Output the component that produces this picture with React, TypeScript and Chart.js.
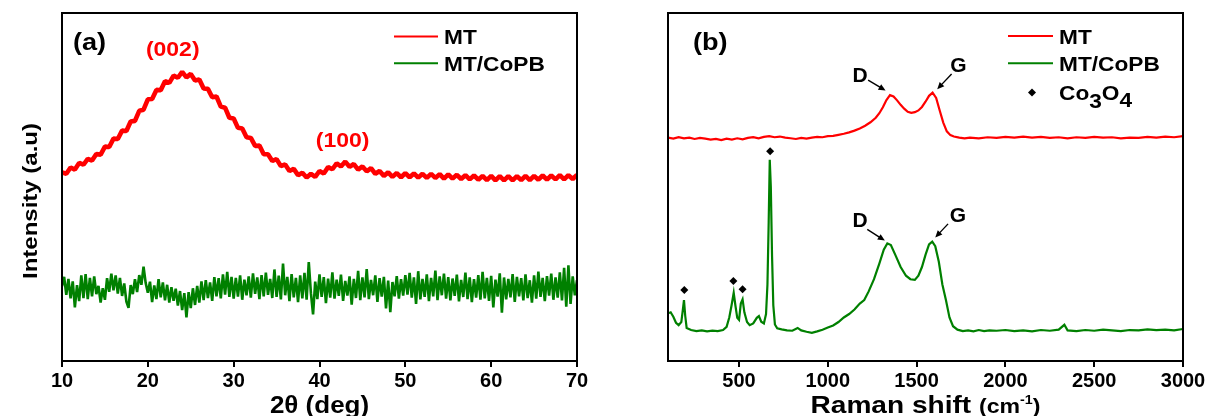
import React, { useEffect, useRef } from 'react';
import { Chart, registerables } from 'chart.js';

Chart.register(...registerables);

const FONT = "'Liberation Sans', Arial, Helvetica, sans-serif";
Chart.defaults.font.family = FONT;
Chart.defaults.color = '#000';

// ---------- (a) XRD ----------
const XRD_TICKS = [10, 20, 30, 40, 50, 60, 70];
const XRD_MT_START = 10;
const XRD_MT_STEP = 0.5;
const XRD_MT = [
  54.2, 53.8, 55.6, 55.0, 56.9, 56.4, 58.1, 57.6, 59.5, 59.3,
  61.6, 61.5, 63.9, 63.8, 66.2, 66.1, 68.8, 69.0, 71.9, 72.2,
  75.2, 75.3, 77.9, 77.8, 80.4, 79.9, 82.0, 81.4, 83.1, 81.5,
  82.5, 80.6, 80.9, 78.3, 78.2, 75.8, 76.0, 73.1, 72.8, 69.9,
  69.7, 67.0, 66.8, 64.3, 64.1, 61.8, 61.9, 59.4, 59.4, 57.5,
  58.0, 56.0, 56.5, 54.6, 55.2, 53.4, 54.1, 52.7, 53.8, 52.9,
  54.6, 53.9, 55.7, 55.1, 56.8, 55.9, 57.3, 55.8, 56.6, 55.0,
  55.9, 54.5, 55.4, 53.8, 54.6, 53.2, 54.2, 52.9, 54.0, 52.8,
  54.0, 52.8, 53.9, 52.7, 53.8, 52.6, 53.8, 52.6, 53.7, 52.4,
  53.6, 52.4, 53.5, 52.3, 53.4, 52.2, 53.3, 52.1, 53.2, 52.0,
  53.2, 51.9, 53.1, 51.9, 53.1, 51.9, 53.1, 52.0, 53.2, 52.0,
  53.2, 52.1, 53.3, 52.1, 53.3, 52.2, 53.4, 52.2, 53.4, 52.3,
  53.5,
];
const XRD_COPB_START = 10;
const XRD_COPB_STEP = 0.25;
const XRD_COPB = [
  21.5, 24.2, 19.0, 23.6, 18.0, 22.9, 15.4, 21.8, 17.2, 24.6, 18.1, 25.0, 17.8, 23.9, 18.6, 24.3, 19.2, 21.6, 16.8, 20.9,
  17.6, 23.8, 19.9, 25.1, 20.3, 24.6, 19.4, 23.9, 18.7, 22.3, 17.1, 15.3, 21.8, 19.2, 23.5, 19.8, 24.7, 21.9, 27.1, 22.4,
  19.6, 22.8, 16.9, 21.7, 17.8, 23.5, 18.3, 22.6, 17.4, 21.9, 16.8, 21.2, 17.3, 20.8, 15.9, 20.1, 14.6, 19.5, 12.5, 19.8,
  15.2, 20.9, 16.1, 21.6, 16.8, 22.9, 17.5, 23.2, 18.1, 22.6, 17.3, 24.1, 18.6, 23.8, 18.0, 24.9, 19.1, 25.6, 18.4, 24.2,
  17.9, 23.9, 18.5, 24.6, 17.6, 23.4, 18.9, 24.3, 18.2, 25.2, 19.3, 24.0, 17.8, 24.7, 18.6, 25.4, 19.0, 23.6, 18.1, 26.3,
  18.4, 24.5, 17.7, 28.0, 18.9, 24.2, 17.2, 25.0, 18.3, 23.9, 16.9, 24.6, 18.0, 25.3, 17.6, 28.4, 19.5, 13.4, 22.8, 17.8,
  24.9, 18.4, 24.1, 16.6, 23.7, 18.2, 25.5, 17.9, 23.4, 18.7, 24.8, 17.3, 23.0, 18.8, 24.3, 16.2, 23.6, 18.1, 25.9, 17.5,
  24.0, 18.3, 26.4, 17.8, 23.3, 18.9, 24.6, 17.0, 23.8, 18.5, 24.2, 15.1, 23.1, 14.0, 22.7, 18.6, 24.4, 17.9, 23.5, 18.8,
  24.7, 19.1, 25.3, 18.2, 24.0, 16.4, 25.8, 17.7, 23.6, 18.4, 24.9, 17.2, 23.9, 18.6, 26.0, 17.5, 24.3, 18.9, 25.1, 17.9,
  24.1, 17.4, 23.7, 18.7, 24.8, 17.1, 23.3, 18.4, 25.4, 17.8, 24.0, 16.9, 23.5, 18.2, 24.7, 17.6, 25.6, 18.0, 23.9, 17.3,
  24.5, 15.4, 23.4, 18.5, 25.2, 13.9, 24.0, 17.7, 23.6, 18.3, 25.0, 17.0, 24.2, 18.6, 23.8, 17.4, 24.9, 18.1, 23.2, 16.8,
  24.6, 17.9, 25.7, 18.4, 23.9, 17.2, 24.4, 18.8, 25.1, 17.6, 24.0, 18.2, 25.5, 17.4, 26.8, 15.6, 27.5, 16.4, 24.3, 18.9,
  23.2,
];

// ---------- (b) Raman ----------
const RAMAN_TICKS = [500, 1000, 1500, 2000, 2500, 3000];
const RAMAN_MT_X = [
  100, 130, 160, 190, 220, 250, 280, 310, 340, 370, 400, 430, 460, 490, 520, 550, 580, 610, 640, 670,
  700, 730, 760, 790, 820, 850, 880, 910, 940, 970, 1000, 1030, 1060, 1090, 1120, 1150, 1180, 1210, 1240, 1270,
  1290, 1310, 1330, 1350, 1370, 1390, 1410, 1430, 1450, 1470, 1490, 1510, 1530, 1550, 1570, 1590, 1610, 1630, 1650, 1670,
  1690, 1710, 1740, 1770, 1800, 1850, 1900, 1950, 2000, 2050, 2100, 2150, 2200, 2250, 2300, 2350, 2400, 2450, 2500, 2550,
  2600, 2650, 2700, 2750, 2800, 2850, 2900, 2950, 3000,
];
const RAMAN_MT_Y = [
  64.2, 63.9, 64.3, 64.0, 64.2, 63.8, 64.1, 63.9, 63.6, 63.8, 63.5, 63.9, 63.6, 64.0, 63.7, 64.1, 64.3, 64.0, 64.4, 64.6,
  64.3, 64.5, 64.2, 64.0, 63.8, 64.1, 63.9, 64.2, 64.4, 64.3, 64.6, 64.7, 65.0, 65.3, 65.7, 66.2, 66.8, 67.6, 68.6, 69.9,
  71.2, 72.9, 75.0, 76.4, 76.0, 74.9, 73.6, 72.5, 71.6, 71.3, 71.5, 72.0, 73.0, 74.5, 76.2, 77.1, 75.6, 72.0, 68.5, 66.0,
  64.9, 64.5, 64.2, 64.0, 64.2, 64.0, 64.3, 64.1, 64.4, 64.2, 64.5, 64.2, 64.4, 64.1, 64.3, 64.0, 64.3, 64.1, 64.4, 64.2,
  64.3, 64.0, 64.2, 64.1, 64.4, 64.2, 64.5, 64.3, 64.6,
];
const RAMAN_COPB_X = [
  100, 115, 130, 145, 160, 175, 183, 190, 197, 205, 230, 260, 290, 320, 350, 380, 410, 430, 445, 458,
  470, 480, 490, 500, 510, 520, 530, 545, 560, 580, 600, 612, 625, 640, 652, 660, 667, 673, 679, 686,
  693, 702, 715, 740, 770, 800, 830, 850, 880, 910, 940, 970, 1000, 1030, 1060, 1090, 1120, 1150, 1180, 1205,
  1230, 1260, 1290, 1315, 1335, 1355, 1380, 1410, 1440, 1465, 1490, 1510, 1530, 1550, 1570, 1588, 1605, 1625, 1645, 1665,
  1685, 1705, 1730, 1760, 1790, 1820, 1850, 1880, 1910, 1950, 2000, 2050, 2100, 2150, 2200, 2250, 2300, 2332, 2350, 2400,
  2450, 2500, 2550, 2600, 2650, 2700, 2750, 2800, 2850, 2900, 2950, 3000,
];
const RAMAN_COPB_Y = [
  13.7, 14.0, 12.7, 11.0, 10.3, 11.2, 14.5, 17.5, 13.0, 9.5, 8.9, 8.6, 8.8, 8.5, 8.7, 8.6, 8.9, 9.8, 12.5, 16.0,
  19.6, 15.8, 12.4, 11.8, 16.5, 17.7, 14.0, 11.2, 10.3, 10.8, 12.4, 12.9, 11.3, 10.8, 13.5, 22.0, 40.0, 57.8, 50.0, 30.0,
  16.0, 10.5, 9.4, 9.1, 8.8, 8.7, 9.5, 8.8, 8.4, 8.1, 8.5, 9.0, 9.6, 10.2, 11.2, 12.5, 13.5, 14.8, 16.5, 17.5,
  20.0, 23.5, 28.0, 32.0, 33.8, 33.3, 30.5, 27.0, 24.5, 23.5, 23.3, 24.5, 27.0, 30.5, 33.5, 34.3, 33.0, 28.5, 22.0, 17.5,
  12.5, 10.0, 9.0, 8.6, 8.8, 8.5, 8.9, 8.6, 8.8, 8.7, 8.9, 8.6, 8.8, 8.5, 8.9, 8.7, 9.0, 10.4, 8.8, 8.6,
  8.9, 8.7, 9.0, 8.8, 8.6, 8.9, 8.8, 9.1, 8.9, 9.0, 8.8, 9.2,
];
const CO3O4_X = [192, 468, 520, 675];
const CO3O4_Y = [20.4, 23.0, 20.6, 60.3];

type Run = { t: string; size: number; sx?: number; dy?: number };

function drawRuns(ctx: CanvasRenderingContext2D, runs: Run[], x: number, y: number, align: 'left' | 'center', color: string) {
  ctx.save();
  ctx.fillStyle = color;
  ctx.textBaseline = 'alphabetic';
  ctx.textAlign = 'left';
  const widths = runs.map((r) => {
    ctx.font = `bold ${r.size}px ${FONT}`;
    return ctx.measureText(r.t).width * (r.sx ?? 1);
  });
  const total = widths.reduce((a, b) => a + b, 0);
  let cx = align === 'center' ? x - total / 2 : x;
  runs.forEach((r, i) => {
    ctx.save();
    ctx.font = `bold ${r.size}px ${FONT}`;
    ctx.translate(cx, y + (r.dy ?? 0));
    ctx.scale(r.sx ?? 1, 1);
    ctx.fillText(r.t, 0, 0);
    ctx.restore();
    cx += widths[i];
  });
  ctx.restore();
}

function drawArrow(ctx: CanvasRenderingContext2D, x1: number, y1: number, x2: number, y2: number) {
  const ang = Math.atan2(y2 - y1, x2 - x1);
  const head = 7;
  const hw = 3.2;
  ctx.save();
  ctx.strokeStyle = '#000';
  ctx.fillStyle = '#000';
  ctx.lineWidth = 1.4;
  ctx.beginPath();
  ctx.moveTo(x1, y1);
  ctx.lineTo(x2 - Math.cos(ang) * head * 0.8, y2 - Math.sin(ang) * head * 0.8);
  ctx.stroke();
  ctx.beginPath();
  ctx.moveTo(x2, y2);
  ctx.lineTo(x2 - Math.cos(ang) * head - Math.sin(ang) * hw, y2 - Math.sin(ang) * head + Math.cos(ang) * hw);
  ctx.lineTo(x2 - Math.cos(ang) * head + Math.sin(ang) * hw, y2 - Math.sin(ang) * head - Math.cos(ang) * hw);
  ctx.closePath();
  ctx.fill();
  ctx.restore();
}

function drawDiamond(ctx: CanvasRenderingContext2D, x: number, y: number, r: number) {
  ctx.save();
  ctx.fillStyle = '#000';
  ctx.beginPath();
  ctx.moveTo(x, y - r);
  ctx.lineTo(x + r, y);
  ctx.lineTo(x, y + r);
  ctx.lineTo(x - r, y);
  ctx.closePath();
  ctx.fill();
  ctx.restore();
}

const panelPlugin = {
  id: 'panel',
  afterDraw(chart: any, _args: any, opts: any) {
    const { ctx, chartArea: a, scales } = chart;
    const xs = scales.x;
    const ys = scales.y;
    ctx.save();
    ctx.strokeStyle = '#000';
    ctx.lineWidth = 2;
    ctx.strokeRect(a.left, a.top, a.right - a.left, a.bottom - a.top);
    ctx.restore();

    drawRuns(ctx, [{ t: opts.tag, size: 24, sx: 1.13 }], a.left + opts.tagDx, 50, 'left', '#000');

    for (const p of opts.labels || []) {
      drawRuns(ctx, [{ t: p.text, size: p.size, sx: p.sx }], xs.getPixelForValue(p.x), ys.getPixelForValue(p.y), 'center', p.color);
    }
    for (const ar of opts.arrows || []) {
      drawArrow(ctx, xs.getPixelForValue(ar.x1), ys.getPixelForValue(ar.y1), xs.getPixelForValue(ar.x2), ys.getPixelForValue(ar.y2));
    }
    const lg = opts.legend;
    for (const it of lg.items) {
      if (it.kind === 'line') {
        ctx.save();
        ctx.strokeStyle = it.color;
        ctx.lineWidth = 2;
        ctx.beginPath();
        ctx.moveTo(a.right - lg.lineFrom, it.y);
        ctx.lineTo(a.right - lg.lineTo, it.y);
        ctx.stroke();
        ctx.restore();
      } else {
        drawDiamond(ctx, a.right - lg.marker, it.y, 4);
      }
      drawRuns(ctx, it.runs, a.right - lg.textAt, it.y + 7.5, 'left', '#000');
    }
    drawRuns(ctx, opts.xTitle, (a.left + a.right) / 2, 413, 'center', '#000');
    if (opts.yTitle) {
      ctx.save();
      ctx.translate(36.5, (a.top + a.bottom) / 2 + 14);
      ctx.rotate(-Math.PI / 2);
      drawRuns(ctx, [{ t: opts.yTitle, size: 20, sx: 1.2 }], 0, 0, 'center', '#000');
      ctx.restore();
    }
  },
};

function xAxis(min: number, max: number, ticks: number[]) {
  return {
    type: 'linear',
    min,
    max,
    afterBuildTicks: (s: any) => {
      s.ticks = ticks.map((v) => ({ value: v }));
    },
    afterFit: (s: any) => {
      s.height = 40;
    },
    ticks: {
      font: { size: 20, weight: 'bold' },
      color: '#000',
      padding: 2,
      maxRotation: 0,
      autoSkip: false,
      callback: (v: number) => String(v),
    },
    grid: { drawOnChartArea: false, drawTicks: true, tickLength: 6, color: '#000', lineWidth: 2 },
    border: { display: false },
  };
}

function leftConfig(): any {
  const mt = XRD_MT.map((y, i) => ({ x: XRD_MT_START + i * XRD_MT_STEP, y }));
  const copb = XRD_COPB.map((y, i) => ({ x: XRD_COPB_START + i * XRD_COPB_STEP, y }));
  return {
    type: 'line',
    data: {
      datasets: [
        { label: 'MT', data: mt, borderColor: '#ff0000', borderWidth: 4.6, borderJoinStyle: 'bevel', pointRadius: 0, tension: 0 },
        { label: 'MT/CoPB', data: copb, borderColor: '#008000', borderWidth: 2.6, borderJoinStyle: 'bevel', pointRadius: 0, tension: 0 },
      ],
    },
    options: {
      animation: false,
      responsive: false,
      events: [],
      layout: { padding: { left: 62, top: 13, right: 43, bottom: 15 } },
      scales: { x: xAxis(10, 70, XRD_TICKS), y: { display: false, min: 0, max: 100 } },
      plugins: {
        legend: { display: false },
        tooltip: { enabled: false },
        panel: {
          tag: '(a)',
          tagDx: 11,
          labels: [
            { text: '(002)', x: 22.9, y: 87.6, size: 20, sx: 1.15, color: '#ff0000' },
            { text: '(100)', x: 42.7, y: 61.4, size: 20, sx: 1.15, color: '#ff0000' },
          ],
          arrows: [],
          legend: {
            lineFrom: 183,
            lineTo: 139,
            textAt: 133,
            marker: 161,
            items: [
              { kind: 'line', color: '#ff0000', y: 36.5, runs: [{ t: 'MT', size: 21, sx: 1.08 }] },
              { kind: 'line', color: '#008000', y: 63.3, runs: [{ t: 'MT/CoPB', size: 21, sx: 1.08 }] },
            ],
          },
          xTitle: [{ t: '2θ (deg)', size: 23, sx: 1.13 }],
          yTitle: 'Intensity (a.u)',
        },
      },
    },
    plugins: [panelPlugin],
  };
}

function rightConfig(): any {
  const mt = RAMAN_MT_X.map((x, i) => ({ x, y: RAMAN_MT_Y[i] }));
  const copb = RAMAN_COPB_X.map((x, i) => ({ x, y: RAMAN_COPB_Y[i] }));
  const marks = CO3O4_X.map((x, i) => ({ x, y: CO3O4_Y[i] }));
  return {
    type: 'line',
    data: {
      datasets: [
        { label: 'MT', data: mt, borderColor: '#ff0000', borderWidth: 2.2, pointRadius: 0, tension: 0 },
        { label: 'MT/CoPB', data: copb, borderColor: '#008000', borderWidth: 2.2, pointRadius: 0, tension: 0 },
        {
          label: 'Co3O4',
          data: marks,
          showLine: false,
          pointStyle: 'rectRot',
          pointRadius: 4,
          backgroundColor: '#000',
          borderColor: '#000',
          borderWidth: 0,
        },
      ],
    },
    options: {
      animation: false,
      responsive: false,
      events: [],
      layout: { padding: { left: 48, top: 13, right: 27, bottom: 15 } },
      scales: { x: xAxis(100, 3000, RAMAN_TICKS), y: { display: false, min: 0, max: 100 } },
      plugins: {
        legend: { display: false },
        tooltip: { enabled: false },
        panel: {
          tag: '(b)',
          tagDx: 25,
          labels: [
            { text: 'D', x: 1181, y: 80.3, size: 21, sx: 1.0, color: '#000' },
            { text: 'G', x: 1736, y: 83.1, size: 21, sx: 1.0, color: '#000' },
            { text: 'D', x: 1181, y: 38.6, size: 21, sx: 1.0, color: '#000' },
            { text: 'G', x: 1733, y: 40.0, size: 21, sx: 1.0, color: '#000' },
          ],
          arrows: [
            { x1: 1227, y1: 80.7, x2: 1325, y2: 77.7 },
            { x1: 1697, y1: 82.5, x2: 1616, y2: 78.1 },
            { x1: 1222, y1: 37.8, x2: 1321, y2: 34.6 },
            { x1: 1677, y1: 39.4, x2: 1605, y2: 35.5 },
          ],
          legend: {
            lineFrom: 175,
            lineTo: 130,
            textAt: 124,
            marker: 151,
            items: [
              { kind: 'line', color: '#ff0000', y: 36, runs: [{ t: 'MT', size: 21, sx: 1.08 }] },
              { kind: 'line', color: '#008000', y: 63.3, runs: [{ t: 'MT/CoPB', size: 21, sx: 1.08 }] },
              {
                kind: 'diamond',
                y: 92.5,
                runs: [
                  { t: 'Co', size: 21, sx: 1.08 },
                  { t: '3', size: 21, sx: 1.08, dy: 8 },
                  { t: 'O', size: 21, sx: 1.08 },
                  { t: '4', size: 21, sx: 1.08, dy: 7 },
                ],
              },
            ],
          },
          xTitle: [
            { t: 'Raman shift ', size: 24, sx: 1.17 },
            { t: '(cm', size: 21, sx: 1.1 },
            { t: '-1', size: 13, sx: 1.1, dy: -9 },
            { t: ')', size: 21, sx: 1.1 },
          ],
          yTitle: null,
        },
      },
    },
    plugins: [panelPlugin],
  };
}

export default function App() {
  const leftRef = useRef<HTMLCanvasElement>(null);
  const rightRef = useRef<HTMLCanvasElement>(null);
  useEffect(() => {
    const c1 = new Chart(leftRef.current as HTMLCanvasElement, leftConfig());
    const c2 = new Chart(rightRef.current as HTMLCanvasElement, rightConfig());
    return () => {
      c1.destroy();
      c2.destroy();
    };
  }, []);
  return (
    <div style={{ position: 'absolute', left: 0, top: 0, width: 1210, height: 416, background: '#fff', overflow: 'hidden' }}>
      <canvas ref={leftRef} width={620} height={416} style={{ position: 'absolute', left: 0, top: 0, width: 620, height: 416 }} />
      <canvas ref={rightRef} width={590} height={416} style={{ position: 'absolute', left: 620, top: 0, width: 590, height: 416 }} />
    </div>
  );
}
